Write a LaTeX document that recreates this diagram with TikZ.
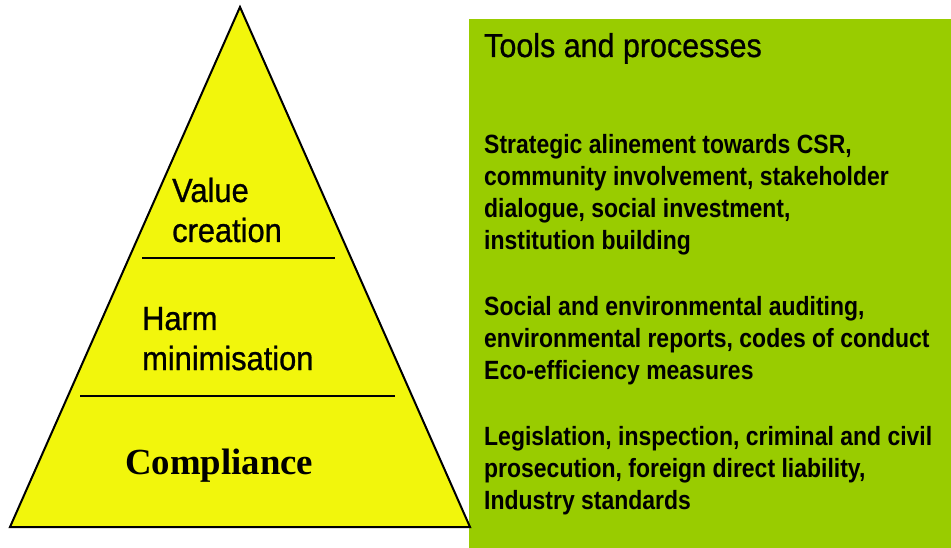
\documentclass[tikz,border=0pt]{standalone}
\usepackage{fontspec}
\setmainfont{Liberation Sans}
\newfontfamily\labelfont[FakeStretch=0.92,FakeBold=0.8]{Liberation Sans}
\newfontfamily\bodyfont[FakeStretch=0.87]{Liberation Sans}
\newfontfamily\serifbold{Liberation Serif}
\definecolor{pyramidyellow}{RGB}{242,246,12}
\definecolor{panelgreen}{RGB}{153,204,0}
\begin{document}
\begin{tikzpicture}[x=1pt,y=-1pt,
  tier/.style={anchor=base west,inner sep=0pt,align=left,
    font=\labelfont\fontsize{33.5}{40}\selectfont},
  bodytext/.style={anchor=base west,inner sep=0pt,align=left,
    font=\bodyfont\bfseries\fontsize{26.4}{32}\selectfont},
  divider/.style={line width=2.4pt}]
\useasboundingbox (0,0) rectangle (951,548);

% green panel
\fill[panelgreen] (469,19) rectangle (951,548);

% pyramid
\coordinate (apex) at (240,7);
\coordinate (bl) at (10,527);
\coordinate (br) at (470,527);
\filldraw[fill=pyramidyellow,draw=black,line width=2pt,line join=miter]
  (apex) -- (br) -- (bl) -- cycle;

% tier dividers
\coordinate (d1l) at (142,258);
\coordinate (d1r) at (335,258);
\coordinate (d2l) at (80,396);
\coordinate (d2r) at (395,396);
\draw[divider] (d1l) -- (d1r);
\draw[divider] (d2l) -- (d2r);

% tier labels (base anchor sits on the last line)
\node[tier] (value) at (172,242) {Value\\creation};
\node[tier] (harm) at (142,370) {Harm\\minimisation};
\node[anchor=base west,inner sep=0pt,font=\serifbold\bfseries\fontsize{36.8}{40}\selectfont]
  (compliance) at (125,474) {Compliance};

% panel texts
\node[anchor=base west,inner sep=0pt,font=\labelfont\fontsize{33.1}{40}\selectfont]
  (title) at (484,57) {Tools and processes};
\node[bodytext] (valuetools) at (484,250)
  {Strategic alinement towards CSR,\\community involvement, stakeholder\\dialogue, social investment,\\institution building};
\node[bodytext] (harmtools) at (484,379)
  {Social and environmental auditing,\\environmental reports, codes of conduct\\Eco-efficiency measures};
\node[bodytext] (compliancetools) at (484,509)
  {Legislation, inspection, criminal and civil\\prosecution, foreign direct liability,\\Industry standards};
\end{tikzpicture}
\end{document}
